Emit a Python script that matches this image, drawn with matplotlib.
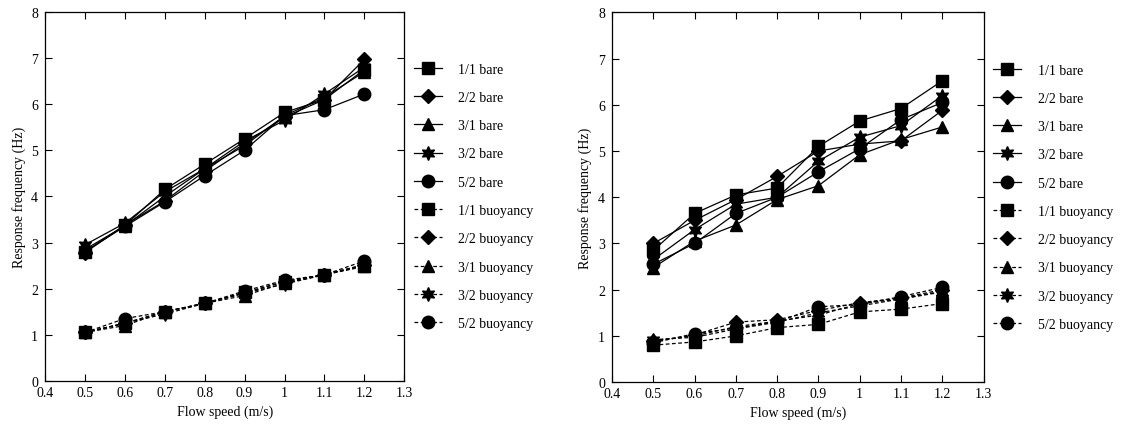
import matplotlib.pyplot as plt

plt.rcParams['font.family'] = ['Liberation Serif', 'DejaVu Serif']
plt.rcParams['font.size'] = 10

speed = [0.5, 0.6, 0.7, 0.8, 0.9, 1.0, 1.1, 1.2]
labels = ['1/1', '2/2', '3/1', '3/2', '5/2']

# left panel
left_bare = [
    [2.80, 3.37, 4.15, 4.70, 5.25, 5.82, 6.10, 6.75],
    [2.78, 3.38, 3.90, 4.55, 5.15, 5.72, 6.10, 6.97],
    [2.85, 3.36, 4.00, 4.60, 5.10, 5.75, 6.15, 6.70],
    [2.95, 3.42, 4.10, 4.60, 5.20, 5.65, 6.22, 6.80],
    [2.80, 3.35, 3.88, 4.45, 5.00, 5.75, 5.88, 6.22],
]
left_buoy = [
    [1.05, 1.25, 1.50, 1.68, 1.92, 2.15, 2.30, 2.50],
    [1.05, 1.25, 1.50, 1.68, 1.90, 2.15, 2.30, 2.52],
    [1.05, 1.20, 1.50, 1.68, 1.85, 2.12, 2.30, 2.48],
    [1.05, 1.25, 1.45, 1.68, 1.90, 2.10, 2.30, 2.52],
    [1.05, 1.35, 1.50, 1.68, 1.95, 2.18, 2.30, 2.60],
]

# right panel
right_bare = [
    [2.85, 3.65, 4.05, 4.20, 5.10, 5.65, 5.92, 6.52],
    [3.00, 3.50, 3.95, 4.45, 5.00, 5.15, 5.22, 5.88],
    [2.48, 3.05, 3.40, 3.95, 4.25, 4.92, 5.25, 5.52],
    [2.65, 3.30, 3.85, 4.00, 4.78, 5.30, 5.55, 6.20],
    [2.55, 3.00, 3.65, 4.00, 4.55, 5.05, 5.68, 6.05],
]
right_buoy = [
    [0.80, 0.87, 1.00, 1.18, 1.25, 1.52, 1.58, 1.70],
    [0.88, 1.02, 1.30, 1.35, 1.55, 1.72, 1.82, 2.00],
    [0.90, 1.00, 1.20, 1.32, 1.45, 1.70, 1.80, 1.97],
    [0.92, 0.97, 1.15, 1.30, 1.50, 1.65, 1.80, 1.95],
    [0.85, 1.05, 1.17, 1.30, 1.63, 1.68, 1.85, 2.05],
]

markers = ['s', 'D', '^', (6, 1, 0), 'o']
msizes = [8, 7, 8, 10, 9]

fig = plt.figure(figsize=(11.26, 4.31), dpi=100)
ax1 = fig.add_axes([0.040, 0.114, 0.319, 0.856])
ax2 = fig.add_axes([0.5435, 0.111, 0.330, 0.858])

for ax, bare, buoy in [(ax1, left_bare, left_buoy), (ax2, right_bare, right_buoy)]:
    for i in range(5):
        ax.plot(speed, bare[i], color='black', lw=0.9, marker=markers[i],
                ms=msizes[i], label=labels[i] + ' bare')
    for i in range(5):
        ax.plot(speed, buoy[i], color='black', lw=0.9, ls=(0, (3, 2)),
                marker=markers[i], ms=msizes[i], label=labels[i] + ' buoyancy')
    ax.set_xlim(0.4, 1.3)
    ax.set_ylim(0, 8)
    ax.set_xticks([0.4, 0.5, 0.6, 0.7, 0.8, 0.9, 1.0, 1.1, 1.2, 1.3])
    ax.set_xticklabels(['0.4', '0.5', '0.6', '0.7', '0.8', '0.9', '1', '1.1', '1.2', '1.3'])
    ax.set_yticks(range(9))
    ax.tick_params(direction='in', top=True, right=True, length=5, width=0.8)
    ax.tick_params(axis='y', pad=5)
    for s in ax.spines.values():
        s.set_linewidth(0.9)
    ax.set_xlabel('Flow speed (m/s)')
    ax.set_ylabel('Response frequency (Hz)')
    ax.legend(loc='center left', bbox_to_anchor=(1.0, 0.5), frameon=False,
              borderaxespad=0.3, handlelength=2.0, handletextpad=1.2,
              labelspacing=1.1)

plt.savefig('out.png', dpi=100)
